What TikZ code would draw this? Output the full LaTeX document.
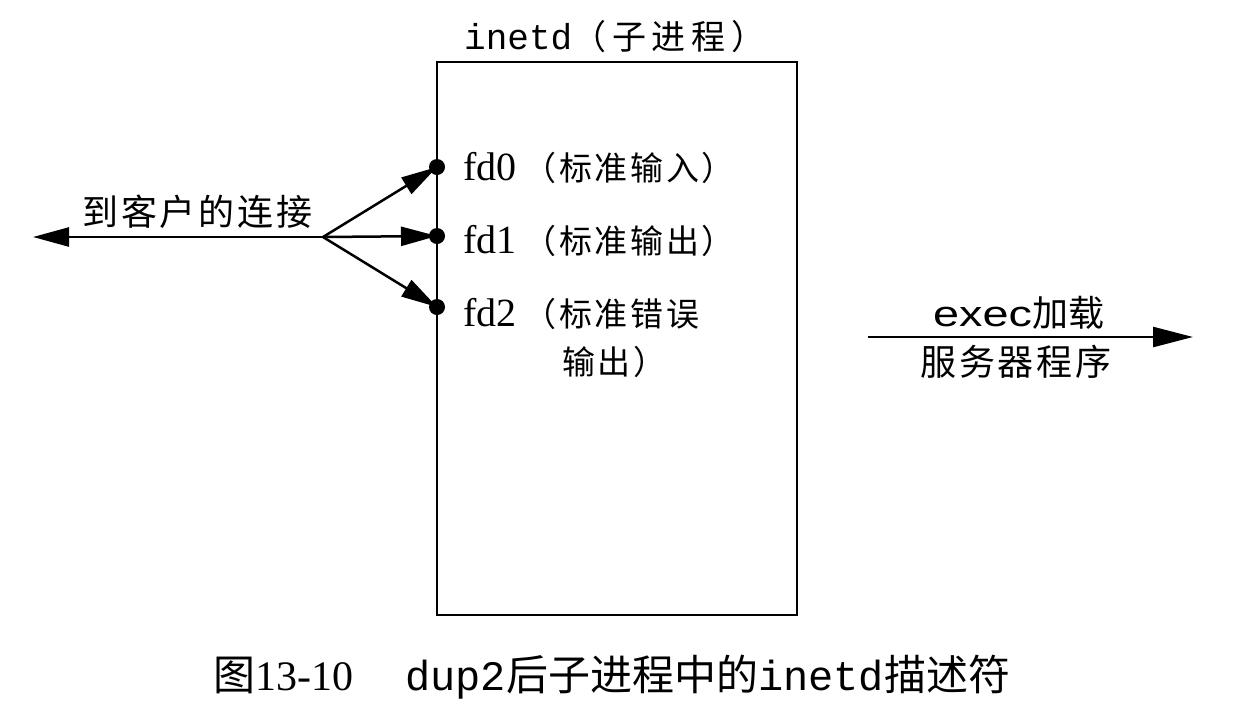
\documentclass[tikz,border=0pt]{standalone}
\usepackage{fontspec}
\setmainfont{Liberation Serif}
\newfontfamily\cjk{Noto Sans CJK SC}
\newfontfamily\cjkwide[LetterSpace=8]{Noto Sans CJK SC}
\newfontfamily\cjkmid[LetterSpace=17]{Noto Sans CJK SC}
\newfontfamily\cjknar[LetterSpace=8]{Noto Sans CJK SC}
\newfontfamily\mono{Liberation Mono}
\newfontfamily\sans{Liberation Sans}
\usetikzlibrary{arrows.meta}
\newcommand{\fdlabel}[2]{{\fontsize{40}{44}\selectfont #1}\hspace{7pt}{\fontsize{33}{38}\selectfont\cjknar #2}}
\begin{document}
\begin{tikzpicture}[x=1pt,y=-1pt,
  line/.style={line width=2.5pt},
  tip/.style={-{Triangle[length=36pt,width=19pt]}},
  dotnode/.style={circle,fill=black,inner sep=0pt,minimum size=16pt},
  lbl/.style={inner sep=0pt,anchor=west},
]
\useasboundingbox (0,0) rectangle (1236,716);
% process box
\node[draw,line width=2.2pt,minimum width=360pt,minimum height=553pt,inner sep=0pt] (box) at (617,338.5) {};
\node[lbl] (title) at (464,37) {{\fontsize{36}{40}\selectfont\mono inetd}{\fontsize{34}{40}\selectfont\cjkmid（子进程）}};
% descriptors
\node[dotnode] (d0) at (437,167) {};
\node[dotnode] (d1) at (437,236) {};
\node[dotnode] (d2) at (437,307) {};
\node[lbl] (l0) at (463,168) {\fdlabel{fd0}{（标准输入）}};
\node[lbl] (l1) at (463,241) {\fdlabel{fd1}{（标准输出）}};
\node[lbl] (l2) at (463,314) {\fdlabel{fd2}{（标准错误}};
\node[lbl,font=\fontsize{33}{38}\selectfont] (l2b) at (562,362) {\cjknar 输出）};
% connection
\coordinate (br) at (323,237);
\coordinate (le) at (33,237);
\draw[line,tip] (br) -- (le);
\draw[line,tip] (br) -- (d0.center);
\draw[line,tip] (br) -- (d1.center);
\draw[line,tip] (br) -- (d2.center);
\node[lbl,font=\fontsize{36}{40}\selectfont] (conn) at (82,212) {\cjkwide 到客户的连接};
% exec
\coordinate (es) at (868,337);
\coordinate (ee) at (1193,337);
\draw[line,-{Triangle[length=40pt,width=20pt]}] (es) -- (ee);
\node[lbl,font=\fontsize{36}{40}\selectfont] (ex) at (933,313) {\scalebox{1.3}[1]{\sans exec}\cjk 加载};
\node[lbl,font=\fontsize{36}{40}\selectfont] (srv) at (920,362) {\cjkwide 服务器程序};
% caption
\node[lbl,font=\fontsize{42}{48}\selectfont] (cap) at (213,677) {\cjk 图\rmfamily 13-10\hspace{52pt}\mono dup2\cjk 后子进程中的\mono inetd\cjk 描述符};
\end{tikzpicture}
\end{document}
